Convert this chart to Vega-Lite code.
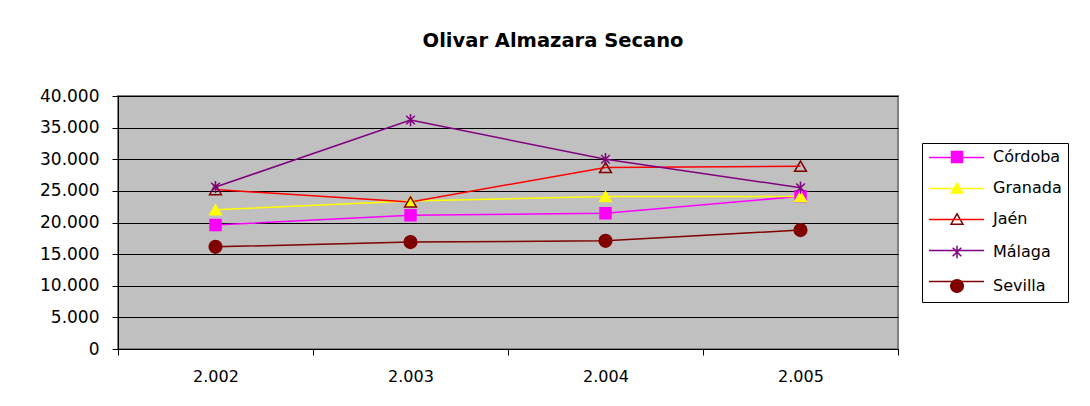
{
  "$schema": "https://vega.github.io/schema/vega-lite/v6.json",
  "width": 780,
  "height": 253,
  "autosize": "none",
  "padding": {"left": 118, "top": 96, "right": 192, "bottom": 57},
  "background": "white",
  "config": {
    "locale": {"number": {"decimal": ",", "thousands": ".", "grouping": [3], "currency": ["", " €"]}},
    "view": {"fill": "#C0C0C0", "stroke": "#808080", "strokeWidth": 2},
    "font": "DejaVu Sans"
  },
  "title": {
    "text": "Olivar Almazara Secano",
    "font": "DejaVu Sans",
    "fontSize": 19.5,
    "fontWeight": "bold",
    "color": "#000000",
    "anchor": "middle",
    "dx": 45,
    "frame": "group",
    "offset": 36
  },
  "data": {
    "values": [
      {"Provincia": "Córdoba", "Año": 2002, "Valor": 19600},
      {"Provincia": "Córdoba", "Año": 2003, "Valor": 21150},
      {"Provincia": "Córdoba", "Año": 2004, "Valor": 21450},
      {"Provincia": "Córdoba", "Año": 2005, "Valor": 24150},
      {"Provincia": "Granada", "Año": 2002, "Valor": 22000},
      {"Provincia": "Granada", "Año": 2003, "Valor": 23400},
      {"Provincia": "Granada", "Año": 2004, "Valor": 24100},
      {"Provincia": "Granada", "Año": 2005, "Valor": 24100},
      {"Provincia": "Jaén", "Año": 2002, "Valor": 25200},
      {"Provincia": "Jaén", "Año": 2003, "Valor": 23250},
      {"Provincia": "Jaén", "Año": 2004, "Valor": 28700},
      {"Provincia": "Jaén", "Año": 2005, "Valor": 28900},
      {"Provincia": "Málaga", "Año": 2002, "Valor": 25600},
      {"Provincia": "Málaga", "Año": 2003, "Valor": 36200},
      {"Provincia": "Málaga", "Año": 2004, "Valor": 30000},
      {"Provincia": "Málaga", "Año": 2005, "Valor": 25500},
      {"Provincia": "Sevilla", "Año": 2002, "Valor": 16150},
      {"Provincia": "Sevilla", "Año": 2003, "Valor": 16900},
      {"Provincia": "Sevilla", "Año": 2004, "Valor": 17100},
      {"Provincia": "Sevilla", "Año": 2005, "Valor": 18800}
    ]
  },
  "encoding": {
    "x": {
      "field": "Año",
      "type": "ordinal",
      "bandPosition": 0.5,
      "scale": {"type": "band", "paddingInner": 0, "paddingOuter": 0},
      "axis": {
        "title": null,
        "labelAngle": 0,
        "tickBand": "extent",
        "labelExpr": "isNumber(datum.value) && datum.value > 0 ? format(datum.value, ',d') : ''",
        "domainColor": "#000000",
        "tickColor": "#000000",
        "tickSize": 6,
        "labelPadding": 13,
        "labelFont": "DejaVu Sans",
        "labelFontSize": 16,
        "labelColor": "#000000",
        "grid": false
      }
    },
    "y": {
      "field": "Valor",
      "type": "quantitative",
      "scale": {"domain": [0, 40000], "nice": false},
      "axis": {
        "title": null,
        "values": [0, 5000, 10000, 15000, 20000, 25000, 30000, 35000, 40000],
        "format": ",d",
        "grid": true,
        "gridColor": "#000000",
        "gridWidth": 1,
        "domainColor": "#000000",
        "tickColor": "#000000",
        "tickSize": 6,
        "labelPadding": 13,
        "labelFont": "DejaVu Sans",
        "labelFontSize": 17,
        "labelColor": "#000000"
      }
    }
  },
  "layer": [
    {
      "mark": {"type": "line", "strokeWidth": 1.5},
      "encoding": {
        "color": {
          "field": "Provincia",
          "type": "nominal",
          "scale": {
            "domain": ["Córdoba", "Granada", "Jaén", "Málaga", "Sevilla"],
            "range": ["#FF00FF", "#FFFF00", "#FF0000", "#800080", "#800000"]
          },
          "legend": {
            "orient": "none",
            "legendX": 832,
            "legendY": 55,
            "title": null,
            "symbolType": "M-5,0L5,0",
            "symbolSize": 121,
            "symbolStrokeWidth": 1.5,
            "labelExpr": "''",
            "rowPadding": 19,
            "padding": 0,
            "zindex": 1
          }
        }
      }
    },
    {
      "mark": {"type": "point", "opacity": 1, "strokeWidth": 1.5},
      "encoding": {
        "shape": {
          "field": "Provincia",
          "type": "nominal",
          "scale": {"range": ["square", "triangle-up", "triangle-up", "M-0.7,-0.7L0.7,0.7M-0.7,0.7L0.7,-0.7M0,-1L0,1", "circle"]},
          "legend": {"orient": "none", "legendX": 804, "legendY": 47, "title": null, "padding": 6, "symbolOffset": 21, "labelOffset": 28, "labelFontSize": 16, "labelFont": "DejaVu Sans", "labelColor": "#000000", "rowPadding": 14, "symbolStrokeWidth": 1.5, "strokeColor": "#000000", "fillColor": "#FFFFFF", "zindex": 0}
        },
        "fill": {
          "field": "Provincia",
          "type": "nominal",
          "scale": {"range": ["#FF00FF", "#FFFF00", "transparent", "transparent", "#800000"]},
          "legend": {"orient": "none", "legendX": 804, "legendY": 47, "title": null, "padding": 6, "symbolOffset": 21, "labelOffset": 28, "labelFontSize": 16, "labelFont": "DejaVu Sans", "labelColor": "#000000", "rowPadding": 14, "symbolStrokeWidth": 1.5, "strokeColor": "#000000", "fillColor": "#FFFFFF", "zindex": 0}
        },
        "stroke": {
          "field": "Provincia",
          "type": "nominal",
          "scale": {"range": ["#FF00FF", "#FFFF00", "#800000", "#800080", "#800000"]},
          "legend": {"orient": "none", "legendX": 804, "legendY": 47, "title": null, "padding": 6, "symbolOffset": 21, "labelOffset": 28, "labelFontSize": 16, "labelFont": "DejaVu Sans", "labelColor": "#000000", "rowPadding": 14, "symbolStrokeWidth": 1.5, "strokeColor": "#000000", "fillColor": "#FFFFFF", "zindex": 0}
        },
        "size": {
          "field": "Provincia",
          "type": "nominal",
          "scale": {"range": [121, 160, 160, 250, 140]},
          "legend": {"orient": "none", "legendX": 804, "legendY": 47, "title": null, "padding": 6, "symbolOffset": 21, "labelOffset": 28, "labelFontSize": 16, "labelFont": "DejaVu Sans", "labelColor": "#000000", "rowPadding": 14, "symbolStrokeWidth": 1.5, "strokeColor": "#000000", "fillColor": "#FFFFFF", "zindex": 0}
        }
      }
    }
  ]
}
